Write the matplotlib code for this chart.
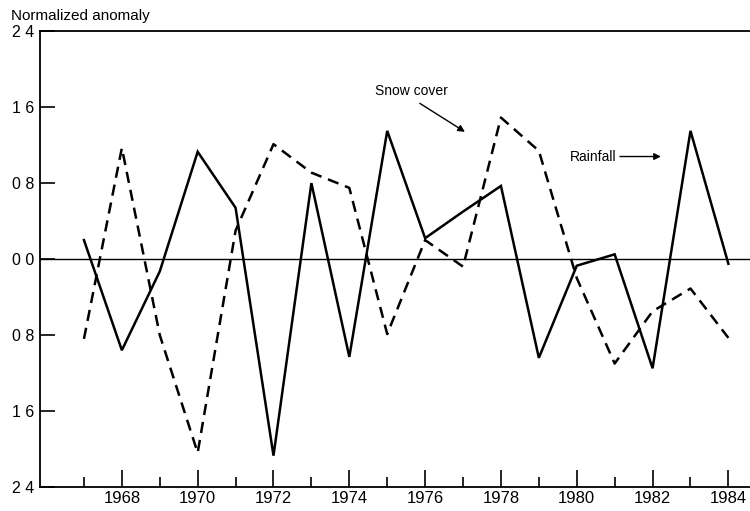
import matplotlib
matplotlib.use('Agg')
import matplotlib.pyplot as plt

# Data
years = list(range(1967, 1985))
rainfall = [0.20, -0.96, -0.13, 1.13, 0.54, -2.07, 0.80, -1.03, 1.35, 0.22,
            0.50, 0.77, -1.04, -0.07, 0.05, -1.15, 1.35, -0.05]
snow_cover = [-0.84, 1.17, -0.80, -2.04, 0.30, 1.21, 0.91, 0.75, -0.79, 0.20,
              -0.08, 1.49, 1.14, -0.20, -1.10, -0.55, -0.31, -0.83]

y_ticks = [-2.4, -1.6, -0.8, 0.0, 0.8, 1.6, 2.4]
y_labels = ['2 4', '1 6', '0 8', '0 0', '0 8', '1 6', '2 4']
x_major = list(range(1968, 1985, 2))
x_minor = list(range(1967, 1985, 2))

plt.rcParams['font.family'] = ['Liberation Sans', 'DejaVu Sans']

fig = plt.figure(figsize=(7.5, 5.11), dpi=100)
ax = fig.add_axes([0.0533, 0.047, 0.9467, 0.892])

ax.plot(years, rainfall, color='black', linewidth=1.8, solid_joinstyle='miter')
ax.plot(years, snow_cover, color='black', linewidth=1.8, linestyle=(0, (4.5, 2.8)))
ax.axhline(0, color='black', linewidth=1.0)

ax.set_xlim(1965.84, 1984.57)
ax.set_ylim(-2.4, 2.4)

ax.set_yticks(y_ticks)
ax.set_yticklabels(y_labels, fontsize=11.5)
ax.set_xticks(x_major)
ax.set_xticks(x_minor, minor=True)
ax.set_xticklabels([str(y) for y in x_major], fontsize=12)

ax.tick_params(axis='y', direction='in', length=11, width=1.2, pad=4)
ax.tick_params(axis='x', which='major', direction='in', length=12, width=1.2, pad=3)
ax.tick_params(axis='x', which='minor', direction='in', length=7, width=1.2)

ax.spines['right'].set_visible(False)
for s in ['left', 'bottom', 'top']:
    ax.spines[s].set_linewidth(1.3)

fig.text(0.015, 0.968, 'Normalized anomaly', fontsize=11, ha='left', va='center')

# labels with arrows
ax.text(1974.68, 1.77, 'Snow cover', fontsize=10, ha='left', va='center')
ax.annotate('', xy=(1977.05, 1.34), xytext=(1975.86, 1.64),
            arrowprops=dict(arrowstyle='-|>', color='black', lw=1.0,
                            shrinkA=0, shrinkB=0, mutation_scale=10))
ax.text(1979.82, 1.08, 'Rainfall', fontsize=10, ha='left', va='center')
ax.annotate('', xy=(1982.22, 1.08), xytext=(1981.14, 1.08),
            arrowprops=dict(arrowstyle='-|>', color='black', lw=1.0,
                            shrinkA=0, shrinkB=0, mutation_scale=10))

fig.savefig('out.png', dpi=100)
